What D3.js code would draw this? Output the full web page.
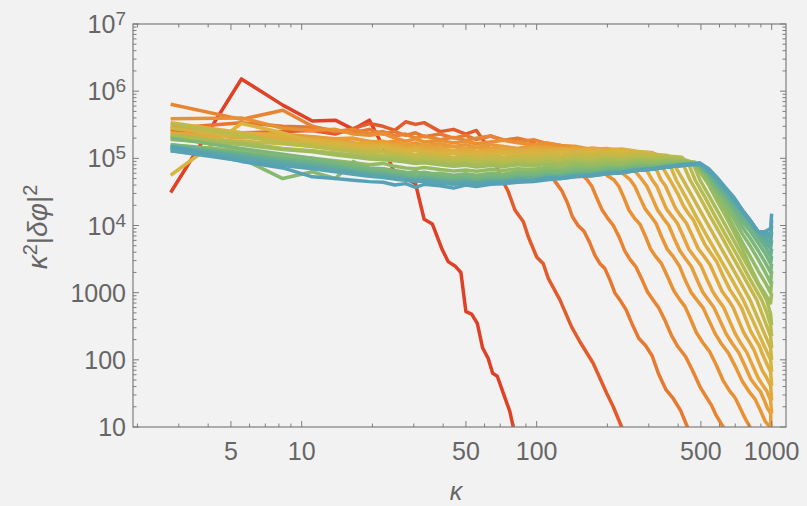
<!DOCTYPE html>
<html>
<head>
<meta charset="utf-8">
<script src="https://cdn.jsdelivr.net/npm/d3@7"></script>
<style>
  body { margin: 0; background: #f2f2f2; }
  text { font-family: "Liberation Sans", Arial, sans-serif; fill: #666; }
</style>
</head>
<body>
<div id="chart"></div>
<script>
// wavenumbers of the flat part of every spectrum
const kBand = [2.77, 5.54, 8.31, 11.1, 13.9, 16.6, 19.4, 22.2, 24.9, 27.7, 30.5, 33.2, 38.8, 44.3, 49.9, 55.4,
  63.7, 72, 83, 97, 111, 127, 147, 172, 199, 230, 266, 310, 360, 415, 470, 520];

// flat part, in thousands, one row per time (early -> late)
const bandValues = [
  [31, 1520, 620, 360, 370, 270, 370, 150, 60],
  [260, 240, 250, 260, 230, 280, 330, 300, 260, 350, 320, 340, 250, 270, 230, 260, 130],
  [280, 340, 300, 290, 260, 240, 270, 230, 250, 220, 240, 210, 230, 200, 220, 190, 215, 185, 200, 175],
  [640, 380, 520, 300, 250, 270, 235, 250, 215, 230, 200, 215, 190, 205, 185, 200, 215, 190, 175, 190, 165, 155],
  [390, 400, 280, 260, 270, 230, 220, 235, 200, 180, 195, 175, 185, 170, 180, 165, 175, 185, 170, 160, 170, 155, 150, 120],
  [210, 220, 200, 210, 185, 195, 180, 170, 180, 160, 170, 155, 165, 150, 160, 145, 160, 150, 140, 155, 145, 140, 150, 135, 125],
  [300, 240, 230, 210, 195, 200, 175, 180, 160, 165, 150, 158, 145, 150, 140, 148, 140, 150, 138, 145, 150, 138, 145, 135, 140, 120],
  [240, 200, 210, 190, 175, 165, 170, 150, 160, 145, 140, 150, 135, 130, 140, 128, 135, 140, 130, 145, 135, 140, 132, 142, 135, 130, 115],
  [230, 210, 195, 185, 175, 170, 160, 165, 150, 140, 148, 135, 140, 125, 132, 122, 130, 125, 135, 128, 138, 130, 140, 132, 138, 135, 125, 95],
  [340, 240, 215, 190, 175, 160, 150, 155, 140, 132, 138, 128, 125, 130, 120, 126, 118, 128, 122, 132, 125, 135, 128, 135, 130, 138, 128, 120],
  [56, 330, 240, 175, 160, 150, 140, 145, 130, 125, 130, 120, 115, 120, 110, 116, 110, 118, 112, 120, 115, 124, 118, 126, 122, 128, 125, 122],
  [280, 210, 180, 165, 150, 140, 135, 128, 125, 118, 112, 118, 108, 104, 110, 102, 108, 104, 110, 106, 114, 108, 116, 112, 118, 114, 120, 116, 110],
  [200, 180, 165, 150, 138, 130, 122, 125, 115, 110, 105, 108, 100, 96, 100, 94, 98, 95, 100, 97, 104, 100, 108, 104, 110, 106, 112, 110, 108],
  [330, 220, 170, 150, 135, 125, 115, 110, 112, 104, 98, 102, 94, 90, 94, 88, 92, 88, 94, 90, 96, 93, 100, 97, 103, 100, 106, 104, 108, 104],
  [220, 170, 140, 130, 120, 112, 104, 100, 102, 95, 90, 93, 86, 82, 85, 80, 84, 80, 85, 82, 88, 85, 92, 89, 95, 92, 98, 96, 100, 98],
  [190, 160, 135, 125, 112, 105, 98, 95, 92, 88, 84, 86, 80, 76, 79, 74, 78, 75, 80, 77, 82, 80, 86, 84, 88, 86, 92, 90, 94, 92],
  [160, 130, 110, 100, 92, 86, 80, 84, 76, 72, 70, 73, 68, 65, 67, 64, 68, 66, 70, 68, 74, 72, 78, 76, 81, 80, 86, 85, 89, 88, 88],
  [130, 100, 50, 63, 50, 90, 66, 70, 62, 60, 64, 58, 60, 56, 59, 56, 60, 58, 63, 62, 67, 66, 71, 70, 75, 74, 80, 80, 84, 84, 86],
  [200, 140, 115, 100, 88, 80, 72, 70, 66, 62, 60, 62, 57, 54, 56, 53, 57, 55, 60, 58, 63, 62, 67, 66, 71, 70, 76, 76, 80, 82, 84],
  [160, 120, 100, 90, 80, 72, 66, 63, 60, 57, 54, 56, 52, 50, 52, 49, 52, 51, 55, 54, 58, 57, 62, 62, 67, 67, 72, 73, 77, 80, 83],
  [150, 115, 95, 85, 75, 68, 62, 60, 56, 53, 51, 52, 49, 47, 49, 46, 49, 48, 52, 51, 55, 55, 59, 60, 64, 65, 70, 71, 76, 79, 82],
  [140, 110, 90, 80, 72, 65, 60, 57, 54, 51, 49, 50, 47, 45, 47, 44, 47, 46, 50, 49, 53, 53, 57, 58, 62, 63, 68, 70, 75, 78, 81],
  [150, 105, 85, 76, 68, 62, 57, 55, 52, 49, 47, 48, 45, 43, 45, 43, 45, 45, 48, 48, 52, 52, 56, 57, 61, 62, 67, 69, 74, 78, 81],
  [140, 100, 80, 72, 65, 60, 56, 53, 50, 48, 46, 47, 44, 42, 44, 42, 44, 44, 47, 47, 51, 51, 55, 56, 60, 62, 66, 69, 74, 78, 82],
  [130, 92, 78, 70, 63, 58, 54, 52, 49, 47, 45, 46, 43, 41, 43, 41, 43, 43, 46, 46, 50, 50, 54, 55, 59, 61, 66, 69, 74, 79, 83],
  [150, 90, 72, 53, 50, 47, 45, 44, 40, 42, 37, 41, 39, 36, 40, 38, 41, 42, 44, 45, 48, 50, 53, 55, 59, 61, 66, 70, 75, 80, 84]
];

// fall-off of every spectrum, [k, value]
const tailPoints = [
  [[27.7, 5.0e4], [30.5, 4.2e4], [33.2, 1.24e4], [36, 1.05e4], [39.4, 4600], [42, 2900], [44.9, 2500], [47.6, 2000], [50, 520],
   [52.9, 480], [55.9, 350], [58.9, 150], [62.2, 105], [65, 63], [68, 57], [72.1, 32], [76.9, 17], [79.5, 10], [83, 6]],
  [[67.6, 7.5e4], [72, 4.5e4], [75.7, 3.2e4], [80.8, 1.7e4], [87.8, 1.14e4], [92.1, 6800], [100, 3400], [106.7, 2700], [112, 1640],
   [125.6, 780], [140.8, 310], [152.8, 186], [174, 89], [198.4, 32], [211.8, 20], [230, 10], [240, 7]],
  [[105, 1.1e5], [113, 6.0e4], [121.6, 4.2e4], [128, 3.3e4], [135, 2.2e4], [142, 1.35e4], [150, 1.0e4], [159, 8200], [168, 5600],
   [177, 3600], [186, 2700], [195, 2300], [205, 1550], [215, 1000], [226, 780], [240, 560], [255, 340], [272, 210], [290, 165],
   [310, 115], [330, 62], [355, 36], [380, 27], [410, 17.5], [438, 10], [460, 7]],
  [[140, 9.0e4], [152, 6.2e4], [164, 4.8e4], [172, 3.8e4], [180, 2.6e4], [190, 1.7e4], [200, 1.3e4], [212, 1.0e4], [225, 6600],
   [237, 4200], [250, 3100], [265, 2400], [280, 1600], [296, 1030], [313, 780], [330, 600], [350, 400], [375, 230], [400, 155],
   [430, 112], [460, 70], [495, 40], [530, 27], [555, 21], [580, 15], [622, 10], [650, 7]],
  [[185, 7.5e4], [200, 5.5e4], [213, 4.8e4], [224, 3.8e4], [235, 2.6e4], [247, 1.7e4], [260, 1.3e4], [275, 1.05e4], [290, 7000],
   [305, 4500], [320, 3500], [340, 2700], [360, 1750], [383, 1080], [407, 780], [428, 620], [450, 420], [478, 255], [510, 180],
   [545, 132], [580, 85], [620, 50], [660, 35], [700, 27], [740, 18], [775, 13], [809, 10], [840, 7]],
  [[215, 8.5e4], [232, 6.0e4], [250, 4.8e4], [262, 3.8e4], [275, 2.6e4], [290, 1.75e4], [305, 1.4e4], [322, 1.08e4], [340, 6800],
   [360, 4400], [380, 3500], [405, 2500], [430, 1500], [455, 1000], [480, 780], [510, 600], [540, 390], [575, 245], [610, 175],
   [655, 126], [700, 80], [750, 48], [800, 34], [850, 26], [900, 17], [940, 12], [985, 10], [990, 9.5], [1000, 6]],
  [[245, 9.0e4], [262, 6.5e4], [281, 4.8e4], [295, 3.8e4], [310, 2.6e4], [327, 1.7e4], [345, 1.3e4], [365, 1.0e4], [385, 6400],
   [407, 4200], [430, 3200], [455, 2450], [480, 1600], [508, 1030], [538, 780], [568, 600], [600, 400], [640, 245], [680, 175],
   [725, 127], [771, 80], [815, 52], [860, 40], [895, 34], [930, 25], [960, 19], [990, 16], [1000, 5]],
  [[285, 8.0e4], [310, 4.8e4], [325, 3.8e4], [340, 2.6e4], [357, 1.75e4], [375, 1.4e4], [397, 1.08e4], [420, 7000], [445, 4400],
   [470, 3400], [500, 2550], [530, 1600], [562, 1030], [593, 780], [625, 600], [660, 390], [700, 245], [740, 175], [785, 128],
   [830, 82], [875, 54], [920, 41], [955, 34], [990, 25], [1000, 16]],
  [[338, 4.8e4], [353, 3.9e4], [370, 2.7e4], [390, 1.8e4], [410, 1.4e4], [434, 1.08e4], [460, 7000], [487, 4500], [515, 3500],
   [547, 2600], [580, 1650], [615, 1050], [654, 780], [686, 600], [720, 400], [760, 255], [800, 190], [840, 142], [880, 94],
   [915, 68], [950, 55], [990, 41], [1000, 25]],
  [[335, 8.5e4], [369, 4.8e4], [400, 2.9e4], [420, 2.0e4], [440, 1.55e4], [465, 1.2e4], [490, 8000], [520, 5200], [550, 3900],
   [585, 2850], [620, 1800], [665, 1100], [710, 780], [745, 590], [780, 390], [815, 265], [850, 205], [885, 162], [920, 115],
   [990, 66], [1000, 41]],
  [[350, 1.0e5], [372, 7.5e4], [392, 4.8e4], [430, 2.7e4], [475, 1.4e4], [530, 7000], [600, 3300], [675, 1600], [757, 780],
   [830, 390], [900, 207], [960, 126], [990, 100], [1000, 66]],
  [[385, 8.0e4], [419, 4.8e4], [460, 2.7e4], [510, 1.4e4], [570, 7000], [640, 3400], [720, 1650], [809, 780], [870, 430],
   [930, 250], [990, 150], [1000, 100]],
  [[400, 9.5e4], [425, 7.5e4], [449, 4.8e4], [490, 2.8e4], [545, 1.4e4], [610, 7000], [680, 3500], [770, 1600], [864, 780],
   [920, 440], [960, 300], [990, 226], [1000, 150]],
  [[445, 8.0e4], [472, 4.8e4], [515, 2.8e4], [570, 1.45e4], [640, 7000], [710, 3700], [800, 1700], [907, 780], [950, 520],
   [990, 330], [1000, 226]],
  [[460, 8.8e4], [495, 4.8e4], [540, 2.8e4], [600, 1.45e4], [670, 7200], [750, 3500], [850, 1600], [952, 780], [990, 480],
   [1000, 330]],
  [[460, 8.5e4], [495, 6.3e4], [540, 4.0e4], [583, 2.4e4], [635, 1.4e4], [687, 8300], [750, 4500], [809, 2500], [877, 1400],
   [940, 950], [990, 700], [1000, 990]],
  [[495, 6.7e4], [540, 4.4e4], [583, 2.75e4], [635, 1.7e4], [687, 1.0e4], [750, 5600], [809, 3500], [877, 2100], [940, 1400],
   [990, 990], [1000, 1500]],
  [[495, 7.2e4], [540, 5.0e4], [583, 3.2e4], [635, 2.0e4], [687, 1.3e4], [750, 7500], [809, 5000], [877, 3100], [940, 2000],
   [990, 1400], [1000, 2100]],
  [[495, 7.4e4], [540, 5.3e4], [583, 3.5e4], [635, 2.4e4], [687, 1.6e4], [750, 9500], [809, 6500], [877, 4200], [940, 2800],
   [990, 2000], [1000, 2700]],
  [[495, 7.7e4], [540, 5.6e4], [583, 3.9e4], [635, 2.7e4], [687, 1.8e4], [750, 1.15e4], [809, 8300], [877, 5500], [940, 3800],
   [990, 2700], [1000, 3500]],
  [[495, 8.0e4], [540, 6.0e4], [583, 4.2e4], [635, 2.9e4], [687, 2.0e4], [750, 1.35e4], [809, 1.0e4], [877, 6700], [940, 4800],
   [990, 3500], [1000, 4500]],
  [[495, 8.0e4], [540, 6.1e4], [583, 4.4e4], [635, 3.1e4], [687, 2.2e4], [750, 1.5e4], [809, 1.13e4], [877, 7500], [940, 5700],
   [990, 4500], [1000, 6000]],
  [[495, 8.2e4], [540, 6.4e4], [583, 4.8e4], [635, 3.4e4], [687, 2.4e4], [750, 1.6e4], [809, 1.2e4], [877, 8000], [940, 6500],
   [990, 5500], [1000, 8000]],
  [[495, 8.2e4], [540, 6.5e4], [583, 4.9e4], [635, 3.5e4], [687, 2.5e4], [750, 1.65e4], [809, 1.2e4], [877, 8000], [940, 7200],
   [990, 6500], [1000, 1.0e4]],
  [[495, 8.5e4], [540, 6.7e4], [583, 5.1e4], [635, 3.6e4], [687, 2.6e4], [750, 1.7e4], [809, 1.2e4], [877, 8000], [940, 7600],
   [990, 7500], [1000, 1.2e4]],
  [[495, 8.5e4], [540, 7.0e4], [583, 5.3e4], [635, 3.7e4], [687, 2.7e4], [750, 1.7e4], [809, 1.2e4], [877, 8100], [936, 8100],
   [990, 9000], [1000, 1.5e4]]
];

const xMajor = [5, 10, 50, 100, 500, 1000];
const yMajor = [10, 100, 1000, 1e4, 1e5, 1e6, 1e7];
// colour ramp, early (red) to late (teal)
const rampAt = [0, 0.04, 0.08, 0.16, 0.28, 0.4, 0.52, 0.64, 0.76, 0.88, 1];
const rampColours = ["#df4127", "#e35a2b", "#e7782f", "#e99035", "#e6a43a", "#d8b440",
  "#b8bb4e", "#92bb64", "#72b482", "#5fa9a0", "#57a1b7"];

const svg = d3.select("#chart").append("svg").attr("width", 807).attr("height", 506);

const x = d3.scaleLog().domain([1.915, 1151]).range([133, 786]);
const y = d3.scaleLog().domain([10, 1e7]).range([427, 24]);

svg.append("clipPath").attr("id", "plotclip")
  .append("rect").attr("x", 133).attr("y", 24).attr("width", 653).attr("height", 403);

const colour = d3.scaleLinear().domain(rampAt).range(rampColours).interpolate(d3.interpolateRgb);
const n = bandValues.length;

const series = bandValues.map((vals, i) =>
  vals.map((v, j) => [kBand[j], v * 1000]).concat(tailPoints[i]));

const line = d3.line().x(d => x(d[0])).y(d => y(d[1]));

svg.append("g").attr("clip-path", "url(#plotclip)")
  .selectAll("path").data(series).join("path")
  .attr("d", line)
  .attr("fill", "none")
  .attr("stroke", (d, i) => colour(i / (n - 1)))
  .attr("stroke-width", 3.5)
  .attr("stroke-linejoin", "round");

// frame and ticks
const axisCol = "#7d7d7d";
svg.append("rect").attr("x", 133).attr("y", 24).attr("width", 653).attr("height", 403)
  .attr("fill", "none").attr("stroke", axisCol).attr("stroke-width", 1.2);

const xTicks = x.ticks();
const yTicks = y.ticks();
const ticks = svg.append("g").attr("stroke", axisCol).attr("stroke-width", 1);

xTicks.forEach(t => {
  const len = xMajor.includes(t) ? 6 : 3.5;
  const px = x(t);
  ticks.append("line").attr("x1", px).attr("x2", px).attr("y1", 427).attr("y2", 427 - len);
  ticks.append("line").attr("x1", px).attr("x2", px).attr("y1", 24).attr("y2", 24 + len);
});
yTicks.forEach(t => {
  const len = yMajor.includes(t) ? 6 : 3.5;
  const py = y(t);
  ticks.append("line").attr("x1", 133).attr("x2", 133 + len).attr("y1", py).attr("y2", py);
  ticks.append("line").attr("x1", 786).attr("x2", 786 - len).attr("y1", py).attr("y2", py);
});

// tick labels
svg.append("g").selectAll("text").data(xMajor).join("text")
  .attr("x", d => x(d)).attr("y", 460)
  .attr("text-anchor", "middle").attr("font-size", 25)
  .text(d => d);

svg.append("g").selectAll("text").data(yMajor).join("text")
  .attr("x", 126).attr("y", d => y(d) + 9)
  .attr("text-anchor", "end").attr("font-size", 25)
  .each(function (d) {
    const t = d3.select(this);
    if (d <= 1000) { t.text(d); return; }
    t.append("tspan").text("10");
    t.append("tspan").attr("dy", -8).attr("font-size", 19).text(Math.round(Math.log10(d)));
  });

// axis titles
svg.append("text").attr("x", 456).attr("y", 500)
  .attr("text-anchor", "middle").attr("font-size", 25).attr("font-style", "italic").text("κ");

const yTitle = svg.append("text").attr("transform", "translate(47,227) rotate(-90)")
  .attr("text-anchor", "middle").attr("font-size", 28);
yTitle.append("tspan").attr("font-style", "italic").text("κ");
yTitle.append("tspan").attr("dy", -10).attr("font-size", 20).text("2");
yTitle.append("tspan").attr("dy", 10).text("|");
yTitle.append("tspan").attr("font-style", "italic").text("δφ");
yTitle.append("tspan").text("|");
yTitle.append("tspan").attr("dy", -10).attr("font-size", 20).text("2");
</script>
</body>
</html>
